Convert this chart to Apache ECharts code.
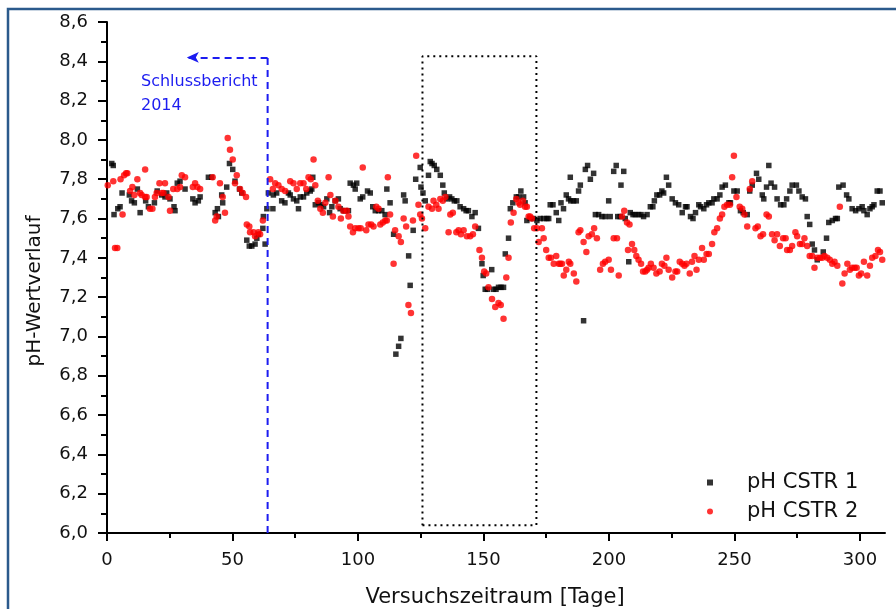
<!DOCTYPE html>
<html>
<head>
<meta charset="utf-8">
<script src="https://cdn.jsdelivr.net/npm/echarts@6/dist/echarts.min.js"></script>
<style>
  html, body { margin: 0; padding: 0; background: #fff; }
  #chart { width: 896px; height: 609px; }
</style>
</head>
<body>
<div id="chart"></div>
<script>
// pH CSTR 1 (black squares): [Tag, pH]
const cstr1 = [
  [1.9,7.88],[2.5,7.87],[2.8,7.62],[4.3,7.65],[5.2,7.66],[6.0,7.73],[8.9,7.72],[9.8,7.69],[10.9,7.68],[12.1,7.75],
  [13.2,7.63],[15.4,7.69],[16.5,7.66],[18.9,7.68],[20.0,7.74],[21.8,7.72],[23.1,7.71],[23.8,7.73],[25.1,7.70],[26.7,7.66],
  [27.1,7.64],[28.0,7.78],[29.1,7.79],[31.1,7.75],[34.2,7.70],[35.1,7.68],[36.4,7.69],[37.1,7.71],[40.4,7.81],[41.7,7.81],
  [43.1,7.63],[44.0,7.65],[44.4,7.61],[45.7,7.72],[46.1,7.68],[47.7,7.76],[48.8,7.88],[50.1,7.85],[51.0,7.79],[52.8,7.75],
  [53.7,7.73],[55.7,7.49],[56.7,7.46],[57.7,7.46],[59.0,7.47],[59.7,7.50],[60.3,7.52],[62.1,7.55],[62.3,7.61],[63.0,7.47],
  [63.7,7.65],[64.3,7.73],[66.1,7.65],[66.3,7.72],[67.6,7.73],[69.6,7.69],[70.9,7.68],[72.3,7.73],
  [73.0,7.72],[74.3,7.70],[75.6,7.69],[76.3,7.65],[77.0,7.71],[78.3,7.71],[79.6,7.73],[81.0,7.74],[81.6,7.75],[82.0,7.81],
  [83.0,7.67],[84.3,7.68],[85.2,7.67],[86.3,7.66],[87.6,7.70],[88.7,7.63],[89.6,7.66],[90.9,7.69],[92.2,7.70],[92.9,7.65],
  [94.2,7.64],[94.9,7.64],[96.2,7.64],[96.9,7.78],[98.2,7.77],[98.9,7.75],[99.5,7.78],[100.9,7.70],[101.9,7.71],[103.8,7.74],
  [104.9,7.73],[105.9,7.66],[106.9,7.64],[108.2,7.64],[109.5,7.64],[110.8,7.62],[111.5,7.75],[112.8,7.68],[114.2,7.52],[115.1,6.91],
  [116.2,6.95],[117.1,6.99],[118.2,7.72],[118.8,7.69],[120.2,7.41],[120.8,7.26],[122.0,7.54],[123.0,7.80],[124.8,7.86],[125.1,7.76],
  [125.9,7.73],[126.8,7.69],[128.1,7.82],[128.8,7.89],[129.5,7.88],[130.4,7.87],[131.4,7.85],[132.8,7.82],[133.8,7.77],[134.4,7.73],
  [135.4,7.70],[136.5,7.71],[137.4,7.70],[138.4,7.69],[139.4,7.69],[140.7,7.66],[142.1,7.65],[143.1,7.64],[144.0,7.64],[145.4,7.61],
  [146.7,7.63],[148.0,7.55],[149.4,7.37],[149.9,7.31],[150.7,7.24],[151.6,7.24],[153.3,7.34],[154.0,7.24],[155.0,7.24],[156.0,7.25],
  [157.0,7.25],[158.0,7.25],[158.7,7.42],[160.0,7.50],[160.7,7.65],[161.7,7.68],[163.1,7.71],[164.0,7.71],[164.9,7.74],[166.0,7.71],
  [166.6,7.68],[167.3,7.59],[168.6,7.60],[170.0,7.60],[171.3,7.59],[172.6,7.60],[174.0,7.60],[175.3,7.60],[176.0,7.60],[176.6,7.67],
  [177.7,7.67],[179.0,7.63],[180.0,7.59],[180.9,7.68],[181.9,7.65],[183.0,7.72],[183.9,7.70],[184.6,7.81],[184.8,7.69],[185.9,7.69],
  [187.0,7.69],[187.9,7.74],[188.6,7.77],[189.9,7.08],[190.6,7.85],[191.5,7.87],[192.6,7.80],[193.9,7.83],[194.6,7.62],[195.9,7.62],
  [197.2,7.61],[198.5,7.61],[199.9,7.69],[200.5,7.61],[201.9,7.84],[202.9,7.87],[203.5,7.61],[204.5,7.61],[204.8,7.77],[205.9,7.84],
  [206.5,7.60],[207.9,7.38],[208.5,7.63],[209.6,7.62],[210.5,7.62],[211.8,7.62],[212.8,7.62],[213.8,7.61],[215.2,7.62],[216.5,7.66],
  [217.5,7.66],[218.1,7.69],[219.1,7.72],[220.2,7.72],[221.1,7.74],[221.8,7.73],[222.9,7.81],[223.8,7.77],
  [225.2,7.70],[226.5,7.68],[227.8,7.67],[229.2,7.63],[230.5,7.66],[231.1,7.66],[232.5,7.61],[233.5,7.60],[234.5,7.63],[235.8,7.67],
  [236.5,7.66],[237.8,7.65],[238.9,7.67],[239.8,7.68],[241.1,7.68],[241.8,7.70],[243.1,7.70],[244.2,7.72],[245.1,7.76],[246.4,7.77],
  [247.8,7.68],[248.4,7.68],[249.8,7.74],[251.1,7.74],[252.4,7.64],[253.5,7.63],[255.1,7.62],[256.1,7.74],[257.1,7.77],[258.8,7.83],
  [259.7,7.80],[261.1,7.72],[261.7,7.70],[262.8,7.76],[263.7,7.87],[264.6,7.78],[266.0,7.76],[267.0,7.70],[268.4,7.67],[269.7,7.67],
  [270.8,7.70],[272.1,7.74],[273.0,7.77],[274.7,7.77],[275.7,7.74],[277.0,7.71],[278.3,7.70],[279.0,7.61],[280.0,7.57],[281.0,7.47],
  [281.9,7.44],[283.0,7.39],[285.4,7.43],[286.7,7.50],[287.6,7.58],[289.0,7.59],[290.3,7.60],[291.0,7.60],[291.6,7.76],[293.3,7.77],
  [294.7,7.72],[295.6,7.70],[296.9,7.65],[298.3,7.64],[299.6,7.65],[300.9,7.66],[301.6,7.64],[302.9,7.62],[304.0,7.65],[304.9,7.66],
  [305.6,7.67],[306.9,7.74],[308.0,7.74],[308.9,7.68]
];

// pH CSTR 2 (red circles): [Tag, pH]
const cstr2 = [
  [0.3,7.77],[2.5,7.79],[3.2,7.45],[4.1,7.45],[5.4,7.80],[6.2,7.62],[6.8,7.82],[7.6,7.83],[8.1,7.83],[9.2,7.74],
  [10.1,7.76],[10.9,7.72],[12.1,7.80],[13.2,7.73],[13.8,7.72],[15.2,7.71],[15.2,7.85],[15.8,7.71],[17.1,7.65],[18.1,7.65],
  [19.1,7.71],[19.8,7.73],[20.9,7.78],[21.8,7.73],[22.5,7.73],[23.1,7.78],[24.5,7.71],[25.1,7.64],[26.4,7.75],[28.0,7.75],
  [29.1,7.76],[29.8,7.82],[31.1,7.81],[34.2,7.76],[35.1,7.78],[36.0,7.76],[37.1,7.75],[42.1,7.81],[43.1,7.59],[43.7,7.61],
  [45.0,7.78],[46.1,7.71],[47.0,7.63],[48.1,8.01],[49.0,7.95],[50.1,7.90],[51.0,7.78],[51.7,7.82],[53.0,7.75],[54.1,7.73],
  [55.4,7.71],[55.7,7.57],[56.7,7.56],[57.0,7.53],[58.4,7.53],[59.0,7.51],[60.3,7.53],[61.0,7.52],[62.1,7.59],[65.0,7.80],
  [66.1,7.75],[67.0,7.78],[68.3,7.77],[69.6,7.75],[71.0,7.74],
  [73.0,7.79],[74.3,7.78],[75.6,7.75],[77.0,7.78],[78.3,7.78],[79.4,7.75],[80.3,7.81],[81.2,7.80],[82.3,7.90],[83.0,7.77],
  [84.0,7.69],[85.0,7.65],[86.0,7.63],[87.0,7.68],[88.3,7.81],[89.0,7.72],[90.0,7.61],[91.0,7.69],[92.2,7.66],[93.2,7.60],
  [94.2,7.64],[95.6,7.64],[96.2,7.61],[96.9,7.56],[98.0,7.53],[98.9,7.55],[100.2,7.55],[101.1,7.55],[101.9,7.86],[103.3,7.54],
  [104.2,7.57],[105.3,7.57],[106.2,7.56],[107.3,7.66],[108.2,7.65],[108.9,7.57],[109.9,7.58],[110.9,7.59],[111.5,7.59],[111.9,7.81],
  [112.8,7.62],[114.2,7.37],[114.8,7.54],[116.2,7.51],[117.1,7.48],[118.2,7.60],[119.2,7.56],[120.1,7.16],[121.1,7.12],[121.9,7.59],
  [123.2,7.92],[124.1,7.67],[124.8,7.62],[125.5,7.60],[126.8,7.55],[128.1,7.66],[129.5,7.65],[130.1,7.69],[131.2,7.67],[132.1,7.65],
  [132.8,7.70],[133.8,7.69],[134.8,7.71],[136.1,7.53],[136.8,7.62],[137.8,7.63],[139.2,7.53],[140.1,7.54],[141.0,7.52],[142.1,7.54],
  [143.4,7.51],[144.7,7.51],[145.8,7.52],[146.7,7.56],
  [148.4,7.44],[149.4,7.40],[150.3,7.33],[151.1,7.32],[152.0,7.25],[153.4,7.19],[154.7,7.15],[156.0,7.17],[156.9,7.16],[158.0,7.09],
  [159.1,7.30],[160.0,7.40],[160.9,7.58],[162.0,7.63],[163.1,7.70],[164.0,7.68],[164.6,7.67],[165.7,7.69],[166.6,7.66],[167.3,7.66],
  [168.0,7.61],[168.6,7.61],[169.3,7.60],[170.2,7.55],[171.3,7.55],[172.0,7.48],[173.3,7.55],[174.0,7.50],[175.0,7.44],[176.0,7.40],
  [176.9,7.40],[178.0,7.37],[179.0,7.41],[180.0,7.37],[180.6,7.37],[181.3,7.37],[182.0,7.31],[183.0,7.34],[184.0,7.38],[184.6,7.37],
  [186.0,7.32],[187.0,7.28],[187.9,7.53],[188.6,7.54],[189.9,7.48],[191.0,7.43],[191.9,7.51],[193.2,7.52],[194.1,7.55],[195.2,7.50],
  [196.5,7.34],[197.6,7.37],[198.5,7.38],[199.9,7.39],[200.8,7.34],[201.9,7.50],[203.2,7.50],[203.9,7.31],[205.2,7.61],[206.1,7.64],
  [207.2,7.58],[207.6,7.44],[208.2,7.57],[209.2,7.47],[210.1,7.44],[210.9,7.41],[211.8,7.39],[212.8,7.37],[213.6,7.33],[214.5,7.33],
  [215.2,7.34],[215.8,7.35],[216.7,7.37],[217.8,7.35],[218.9,7.32],[220.2,7.33],[221.1,7.37],[222.1,7.36],[222.9,7.40],[223.8,7.34],
  [225.2,7.30],[226.5,7.33],[227.2,7.33],[228.2,7.38],[229.2,7.37],[230.1,7.36],[230.9,7.37],[232.2,7.32],[233.1,7.38],[234.1,7.41],
  [234.9,7.34],[235.8,7.39],[237.1,7.45],[237.8,7.39],[238.9,7.42],[239.8,7.42],[241.1,7.47],[242.0,7.53],[243.1,7.55],[244.2,7.60],
  [245.1,7.62],[246.0,7.66],[247.1,7.67],[248.2,7.67],[249.1,7.81],[249.8,7.92],[250.8,7.71],[252.1,7.66],[253.1,7.65],[254.0,7.62],
  [255.1,7.56],[256.1,7.75],[257.1,7.79],[258.4,7.55],[259.3,7.56],[260.4,7.51],[261.4,7.52],[262.8,7.62],[263.7,7.61],[265.0,7.52],
  [266.0,7.49],[267.0,7.52],[268.1,7.46],[269.4,7.50],[270.4,7.50],[271.0,7.44],[272.1,7.44],[273.0,7.46],[274.3,7.53],[275.0,7.51],
  [276.1,7.47],[277.0,7.47],[277.9,7.50],[279.0,7.46],[280.0,7.41],[281.0,7.41],[281.9,7.35],[283.0,7.40],[284.1,7.40],[285.0,7.40],
  [285.9,7.41],[287.0,7.40],[288.0,7.39],[289.0,7.37],[289.9,7.38],[291.0,7.36],[292.0,7.66],[293.0,7.27],[293.9,7.32],[295.0,7.37],
  [296.0,7.34],[296.9,7.35],[297.9,7.35],[298.7,7.35],[299.6,7.31],[300.5,7.32],[301.6,7.38],[302.9,7.31],[304.0,7.36],[304.9,7.40],
  [306.2,7.41],[307.2,7.44],[308.0,7.43],[308.9,7.39]
];

const xTicks = [0, 50, 100, 150, 200, 250, 300];
const xMinorTicks = [25, 75, 125, 175, 225, 275];

// annotations, in data coordinates
const reportLine = [[64, 6.0], [64, 8.42]];
const reportArrow = [[64, 8.42], [31.8, 8.42]];
const zoomBox = [[125.7, 6.04], [171.1, 6.04], [171.1, 8.426], [125.7, 8.426], [125.7, 6.04]];

const font = 'DejaVu Sans, Verdana, sans-serif';
const blue = '#1c1cf0';

const chart = echarts.init(document.getElementById('chart'));

const commaLabel = v => v.toFixed(1).replace('.', ',');

chart.setOption({
  animation: false,
  backgroundColor: '#fff',
  grid: { left: 107, right: 11, top: 22, bottom: 76 },
  legend: {
    orient: 'vertical',
    left: 707,
    top: 470,
    padding: 0,
    itemGap: 4,
    itemWidth: 6,
    itemHeight: 6,
    textStyle: { fontSize: 21, fontFamily: font, color: '#111', lineHeight: 25, padding: [0, 0, 0, 29] },
    data: [
      { name: 'pH CSTR 1', icon: 'rect' },
      { name: 'pH CSTR 2', icon: 'circle' }
    ]
  },
  xAxis: [
    {
      type: 'value',
      min: 0,
      max: 310,
      interval: 50,
      splitLine: { show: false },
      axisLine: { onZero: false, lineStyle: { color: '#000', width: 2 } },
      axisTick: { customValues: xTicks, length: 8, lineStyle: { color: '#000', width: 2 } },
      axisLabel: { customValues: xTicks, margin: 18, fontSize: 18, fontFamily: font, color: '#111' }
    },
    {
      type: 'value',
      min: 0,
      max: 310,
      position: 'bottom',
      splitLine: { show: false },
      axisLine: { show: false },
      axisTick: { customValues: xMinorTicks, length: 5, lineStyle: { color: '#000', width: 2 } },
      axisLabel: { show: false }
    }
  ],
  yAxis: {
    type: 'value',
    min: 6.0,
    max: 8.6,
    interval: 0.2,
    splitLine: { show: false },
    axisLine: { show: true, onZero: false, lineStyle: { color: '#000', width: 2 } },
    axisTick: { show: true, length: 9, lineStyle: { color: '#000', width: 2 } },
    minorTick: { show: true, splitNumber: 2, length: 6, lineStyle: { color: '#000', width: 2 } },
    axisLabel: { formatter: commaLabel, margin: 19, fontSize: 18, fontFamily: font, color: '#111' }
  },
  graphic: [
    { type: 'rect', silent: true, shape: { x: 8, y: 9, width: 1000, height: 1000 },
      style: { fill: null, stroke: '#2b5a8c', lineWidth: 2.5 } },
    { type: 'text', x: 35, y: 291, rotation: Math.PI / 2, silent: true,
      style: { text: 'pH-Wertverlauf', fontSize: 20, fontFamily: font, fill: '#111', align: 'center', verticalAlign: 'middle' } },
    { type: 'text', x: 495, y: 598, silent: true,
      style: { text: 'Versuchszeitraum [Tage]', fontSize: 21, fontFamily: font, fill: '#111', align: 'center', verticalAlign: 'middle' } },
    { type: 'text', x: 141, y: 82, silent: true,
      style: { text: 'Schlussbericht', fontSize: 16, fontFamily: font, fill: blue, align: 'left', verticalAlign: 'middle' } },
    { type: 'text', x: 141, y: 106, silent: true,
      style: { text: '2014', fontSize: 16, fontFamily: font, fill: blue, align: 'left', verticalAlign: 'middle' } }
  ],
  series: [
    {
      name: 'pH CSTR 1',
      type: 'scatter',
      symbol: 'rect',
      symbolSize: 5.5,
      itemStyle: { color: '#000' },
      data: cstr1
    },
    {
      name: 'pH CSTR 2',
      type: 'scatter',
      symbol: 'circle',
      symbolSize: 6.5,
      itemStyle: { color: '#ff0000' },
      data: cstr2
    },
    {
      name: 'box',
      type: 'line',
      silent: true,
      symbol: 'none',
      lineStyle: { color: '#000', width: 2, type: [2, 4] },
      data: zoomBox
    },
    {
      name: 'report',
      type: 'line',
      silent: true,
      symbol: 'none',
      lineStyle: { color: blue, width: 2, type: [7, 5] },
      data: reportLine,
      markLine: {
        silent: true,
        label: { show: false },
        lineStyle: { color: blue, width: 2, type: [7, 5] },
        data: [[
          { coord: reportArrow[0], symbol: 'none' },
          { coord: reportArrow[1], symbol: 'arrow', symbolSize: [8, 12] }
        ]]
      }
    }
  ]
});
</script>
</body>
</html>
